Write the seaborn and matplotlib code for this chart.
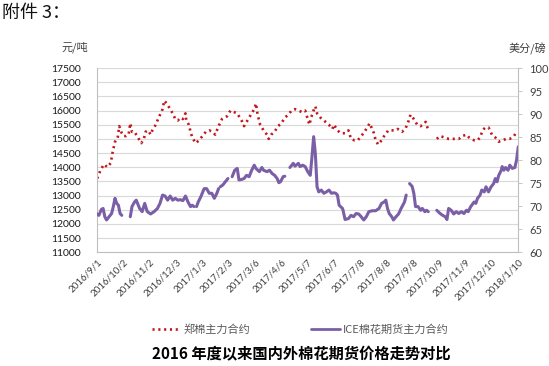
import numpy as np
import pandas as pd
import seaborn as sns
import matplotlib.pyplot as plt
from matplotlib.lines import Line2D

start = pd.Timestamp('2016-09-01')

# 郑棉主力合约 (元/吨), day offsets from 2016-09-01, None = gap
zc_days = [0, 4, 8, 12, 16, 18, 21, 24, 26, 29, 31, 34, 37, 39, 41, 44, 47, 52, 55, 57,
           60, 63, 65, 69, 71, 74, 77, 79, 82, 86, 89, 92, 95, 98, 101, 104, 105, 108, 110, 112,
           116, 120, 124, 128, 132, 136, 139, 143, 147, 153, 157, 161, 165, 167, 171, 173, 177, 181, 185, 187,
           189, 192, 196, 200, 202, 205, 209, 213, 217, 221, 225, 229, 233, 237, 241, 245, 246, 250, 252, 256,
           257, 259, 263, 267, 271, 273, 277, 279, 283, 287, 292, 296, 299, 303, 307, 311, 315, 319, 321, 326,
           328, 331, 335, 339, 343, 347, 351, 354, 359, 363, 367, 369, 373, 377, 381, 385, 387, 390, None,
           400, 404, 409, 414, 418, 422, 426, 430, 435, 438, 444, 448, 451, 454, 457, 461, 465, 469, 473, 477,
           482, 486, 491, 494]
zc_vals = [13600, 13900, 14100, 14000, 14150, 14500, 14900, 15000, 15450, 15200, 15100, 15100, 15150, 15550, 15250, 15250, 15100, 14850, 15000, 15250,
           15300, 15150, 15300, 15500, 15650, 15850, 16050, 16350, 16250, 16050, 15900, 15700, 15650, 15750, 15700, 15900, 15650, 15500, 15250, 15050,
           14850, 14950, 15100, 15250, 15300, 15250, 15150, 15450, 15700, 15800, 16000, 15950, 15900, 15800, 15600, 15450, 15650, 15850, 16050, 16250,
           15850, 15500, 15300, 15150, 15000, 15150, 15250, 15450, 15550, 15750, 15850, 16000, 16050, 16000, 15950, 16000, 15900, 15500, 15750, 16100,
           16150, 15900, 15750, 15650, 15550, 15500, 15350, 15500, 15300, 15200, 15200, 15300, 15000, 14950, 14950, 15100, 15250, 15450, 15550, 15200,
           14950, 14800, 14950, 15150, 15300, 15300, 15300, 15350, 15250, 15350, 15650, 15850, 15700, 15500, 15450, 15550, 15600, 15300, None,
           15000, 15100, 15050, 15000, 15000, 15000, 15000, 15100, 15150, 15050, 14950, 14950, 15050, 15300, 15400, 15400, 15150, 15050, 14900, 14950,
           15000, 15000, 15100, 15250]

# ICE棉花期货主力合约 (美分/磅)
ice_days = [0, 2, 5, 7, 9, 11, 14, 17, 19, 21, 23, 25, 27, 29, None,
            39, 41, 44, 46, 50, 53, 56, 59, 63, 67, 71, 74, 77, 80, 83, 86, 89, 92, 95, 98,
            101, 104, 107, 110, 112, 114, None,
            117, 119, 122, 126, 129, 132, 135, 138, 141, 143, None,
            145, 148, 151, 154, None,
            159, 162, 165, 167, 170, 173, 176, 179, 182, 185, 187, 191, 194, 196, 200, 203, 206, 209, 212, 214,
            216, 219, 221, None,
            227, 231, 233, 237, 239, 242, 245, 248, 251, 253, 255, 257, 259, 261, 264, 267, 270, 273, 276, 279,
            281, 283, 285, 289, 290, 292, 296, 299, 302, 305, 308, 311, 314, 317, 320, 324, 328, 332, 335, 338,
            340, 342, 344, 347, 349, 352, 355, 358, 362, 364, None,
            368, 371, 373, 375, 378, 381, 383, 386, 388, 390, None,
            400, 404, 407, 410, 412, 414, 417, 420, 423, 426, 429, 432, 435, 437, 440, 444, 446, 448, 451, 453,
            456, 458, 461, 464, 467, 469, 471, 473, 476, 477, 479, 481, 484, 486, 489, 492, 494, 496]
ice_vals = [68.3, 68.0, 69.3, 69.5, 67.7, 67.0, 67.7, 68.4, 69.9, 71.7, 70.6, 70.2, 68.4, 68.0, None,
            67.7, 69.9, 70.9, 71.3, 69.5, 68.8, 70.6, 68.8, 68.3, 68.8, 69.5, 70.6, 72.4, 72.2, 71.3, 72.2, 71.3, 71.7, 71.3, 71.4,
            71.2, 72.2, 70.9, 69.9, 70.2, 69.9, None,
            69.9, 70.9, 72.0, 73.8, 73.8, 72.8, 72.8, 71.7, 72.8, 73.8, None,
            74.2, 74.6, 75.3, 76.0, None,
            76.4, 77.8, 78.2, 75.7, 75.8, 76.0, 76.7, 76.4, 77.8, 78.9, 78.2, 77.5, 78.4, 77.8, 77.5, 77.8, 77.1, 76.7, 76.0, 75.1,
            75.3, 76.4, 76.5, None,
            78.4, 79.3, 78.7, 79.3, 78.6, 78.9, 78.6, 77.5, 76.7, 80.7, 85.1, 81.4, 74.2, 73.1, 73.5, 72.8, 73.1, 73.5, 72.8, 72.9,
            72.8, 72.4, 70.2, 69.5, 68.8, 67.1, 67.3, 68.0, 67.7, 68.4, 68.3, 67.7, 67.0, 67.7, 68.8, 69.0, 69.0, 69.5, 70.6, 70.9,
            71.3, 69.5, 68.4, 67.7, 67.0, 67.7, 68.3, 69.5, 70.9, 72.4, None,
            74.9, 74.3, 72.8, 69.9, 69.9, 69.1, 69.5, 68.8, 69.1, 68.8, None,
            69.1, 68.4, 68.0, 67.7, 67.1, 69.5, 69.1, 68.3, 68.8, 68.4, 68.8, 68.4, 69.1, 68.8, 69.9, 70.9, 70.6, 71.7, 72.4, 73.5,
            73.1, 74.2, 73.1, 74.2, 74.9, 76.0, 75.3, 76.7, 77.8, 78.6, 77.8, 78.4, 77.8, 78.9, 78.2, 78.4, 80.0, 82.9]

tick_days = list(range(0, 497, 31))
left_ticks = list(range(11000, 17501, 500))
right_ticks = list(range(60, 101, 5))


def to_frame(days, vals):
    df = pd.DataFrame({'day': days, 'val': vals}, dtype=float)
    df['seg'] = df['val'].isna().cumsum()
    df = df.dropna().copy()
    df['date'] = start + pd.to_timedelta(df['day'], unit='D')
    return df


zc = to_frame(zc_days, zc_vals)
ice = to_frame(ice_days, ice_vals)

sns.set_style('white')
plt.rcParams['font.family'] = ['Lato', 'Noto Sans CJK SC', 'DejaVu Sans']
cjk = ['Noto Sans CJK SC', 'DejaVu Sans']

red = '#C3161C'
purple = '#7A5FA6'

fig = plt.figure(figsize=(5.49, 3.66), dpi=100)
ax = fig.add_axes([0.177, 0.311, 0.767, 0.503])
ax2 = ax.twinx()

sns.lineplot(data=zc, x='date', y='val', units='seg', estimator=None, ax=ax,
             color=red, linewidth=1.9, linestyle=(0, (0.8, 1.4)))
sns.lineplot(data=ice, x='date', y='val', units='seg', estimator=None, ax=ax2,
             color=purple, linewidth=2.2)

tick_dates = [start + pd.Timedelta(days=d) for d in tick_days]
ax.set_xlim(tick_dates[0], tick_dates[-1])
ax.set_xticks(tick_dates)
ax.set_xticklabels([f'{d.year}/{d.month}/{d.day}' for d in tick_dates],
                   rotation=45, ha='right', rotation_mode='anchor')
ax.tick_params(axis='x', length=0, labelsize=7, labelcolor='#404040', pad=4)

ax.set_ylim(11000, 17500)
ax.set_yticks(left_ticks)
ax.tick_params(axis='y', length=0, labelsize=7.5, labelcolor='#1a1a1a', pad=12)
ax.yaxis.grid(True, color='#d9d9d9', linewidth=0.8)
ax.xaxis.grid(False)

ax2.set_ylim(60, 100)
ax2.set_yticks(right_ticks)
ax2.tick_params(axis='y', length=3, width=0.6, color='#bfbfbf', labelsize=8,
                labelcolor='#404040', pad=5, direction='out')
ax2.grid(False)

for a in (ax, ax2):
    a.set_xlabel('')
    a.set_ylabel('')
    a.spines['top'].set_visible(False)
ax.spines['right'].set_visible(False)
ax.spines['left'].set_color('#bfbfbf')
ax.spines['bottom'].set_color('#bfbfbf')
ax2.spines['left'].set_visible(False)
ax2.spines['bottom'].set_visible(False)
ax2.spines['right'].set_color('#bfbfbf')
for s in ax.spines.values():
    s.set_linewidth(0.8)
ax2.spines['right'].set_linewidth(0.8)

fig.text(0.004, 1 - 13 / 366, '附件 3：', fontsize=13, family=cjk, va='center', ha='left', color='#111111')
fig.text(75 / 549, 1 - 47 / 366, '元/吨', fontsize=8, family=cjk, va='center', ha='center', color='#404040')
fig.text(527 / 549, 1 - 49 / 366, '美分/磅', fontsize=8, family=cjk, va='center', ha='center', color='#404040')

handles = [Line2D([], [], color=red, linewidth=1.9, linestyle=(0, (0.8, 1.4))),
           Line2D([], [], color=purple, linewidth=2)]
fig.legend(handles, ['郑棉主力合约', 'ICE棉花期货主力合约'], loc='center',
           bbox_to_anchor=(0.547, 1 - 330 / 366), ncol=2, frameon=False,
           prop={'family': cjk, 'size': 8}, labelcolor='#595959',
           handlelength=2.6, handletextpad=0.2, columnspacing=5.5)

fig.text(0.548, 1 - 354 / 366, '2016 年度以来国内外棉花期货价格走势对比', fontsize=11,
         weight='bold', family=cjk, ha='center', va='center', color='black')

fig.savefig('out.png', dpi=100)
